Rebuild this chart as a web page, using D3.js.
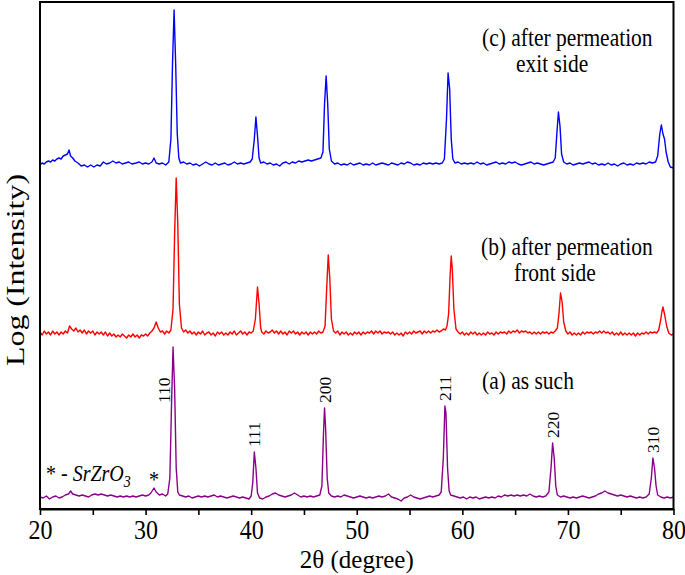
<!DOCTYPE html>
<html>
<head>
<meta charset="utf-8">
<script src="https://cdn.jsdelivr.net/npm/d3@7"></script>
<style>
  body { margin: 0; background: #fff; }
  text { font-family: "Liberation Serif", "Times New Roman", serif; fill: #000; }
</style>
</head>
<body>
<svg id="chart" width="685" height="575"></svg>
<script>
// 2theta (degree) vs log intensity, values relative to each pattern's own baseline
const seriesA = [
  [20.0,1],[20.3,0],[20.6,2],[20.9,-1],[21.2,1],[21.5,2],[21.8,0],[22.1,1],[22.4,3],[22.7,4],[22.9,7],[23.1,4],
  [23.4,3],[23.7,2],[24.0,3],[24.3,2],[24.6,1],[24.9,3],[25.2,4],[25.5,3],[25.8,4],[26.1,3],[26.4,2],[26.7,3],
  [27.0,2],[27.3,1],[27.6,2],[27.9,1],[28.2,2],[28.5,1],[28.8,2],[29.1,1],[29.4,2],[29.7,3],[30.0,2],[30.3,3],
  [30.5,5],[30.8,10],[31.0,6],[31.3,3],[31.6,4],[31.9,2],[32.1,4],[32.3,20],[32.45,90],[32.6,151],[32.75,110],
  [32.9,30],[33.05,6],[33.2,3],[33.5,2],[33.8,1],[34.1,2],[34.4,0],[34.7,1],[35.0,2],[35.3,1],[35.6,2],[35.9,1],
  [36.2,2],[36.5,3],[36.8,1],[37.1,2],[37.4,1],[37.7,0],[38.0,1],[38.3,2],[38.6,1],[38.9,0],[39.2,1],[39.5,0],
  [39.8,-1],[40.0,2],[40.15,15],[40.3,46],[40.45,30],[40.6,5],[40.8,0],[41.1,-1],[41.4,1],[41.7,2],[42.0,4],
  [42.3,5],[42.6,3],[42.9,2],[43.2,1],[43.5,2],[43.8,3],[44.1,5],[44.4,3],[44.7,1],[45.0,2],[45.3,1],[45.6,2],
  [45.9,1],[46.2,2],[46.5,3],[46.7,12],[46.85,65],[46.95,90],[47.05,70],[47.2,20],[47.35,5],[47.6,2],[47.9,1],
  [48.2,2],[48.5,1],[48.8,3],[49.1,2],[49.4,1],[49.7,0],[50.0,1],[50.3,2],[50.6,1],[50.9,0],[51.2,1],[51.5,0],
  [51.8,1],[52.1,2],[52.4,1],[52.7,2],[53.0,4],[53.3,1],[53.6,0],[53.9,-1],[54.2,-3],[54.5,0],[54.8,1],[55.1,3],
  [55.4,1],[55.7,0],[56.0,-1],[56.3,0],[56.6,1],[56.9,2],[57.2,1],[57.5,2],[57.8,3],[58.0,6],[58.2,40],
  [58.35,92],[58.45,85],[58.6,30],[58.75,7],[58.9,3],[59.2,2],[59.5,1],[59.8,0],[60.1,1],[60.4,-1],[60.7,1],
  [61.0,0],[61.3,1],[61.6,-1],[61.9,0],[62.2,1],[62.5,0],[62.8,1],[63.1,0],[63.4,2],[63.7,1],[64.0,3],[64.3,2],
  [64.6,3],[64.9,2],[65.2,3],[65.5,2],[65.8,3],[66.1,2],[66.4,4],[66.7,2],[67.0,1],[67.3,2],[67.6,1],[67.9,2],
  [68.2,6],[68.4,30],[68.55,55],[68.7,40],[68.85,12],[69.0,3],[69.3,1],[69.6,2],[69.9,1],[70.2,0],[70.5,1],
  [70.8,0],[71.1,1],[71.4,2],[71.7,1],[72.0,0],[72.3,1],[72.6,2],[72.9,4],[73.2,5],[73.5,7],[73.8,5],[74.1,4],
  [74.4,3],[74.7,2],[75.0,3],[75.3,2],[75.6,1],[75.9,2],[76.2,1],[76.5,0],[76.8,1],[77.1,0],[77.4,1],[77.7,4],
  [77.9,20],[78.05,40],[78.2,30],[78.35,12],[78.5,3],[78.8,1],[79.1,0],[79.4,1],[79.7,0],[80.0,1]
];

const seriesB = [
  [20.0,2],[20.2,-1],[20.4,3],[20.6,0],[20.8,2],[21.0,-1],[21.2,3],[21.4,0],[21.6,2],[21.8,-1],
  [22.0,2],[22.2,0],[22.4,3],[22.6,1],[22.8,8],[23.0,5],[23.2,3],[23.4,6],[23.6,2],[23.8,4],
  [24.0,1],[24.2,4],[24.4,0],[24.6,3],[24.8,1],[25.0,3],[25.2,-1],[25.4,2],[25.6,0],[25.8,2],
  [26.0,-1],[26.2,2],[26.4,-2],[26.6,1],[26.8,-2],[27.0,0],[27.2,-3],[27.4,-1],[27.6,-3],[27.8,0],
  [28.0,-2],[28.2,-4],[28.4,-1],[28.6,-3],[28.8,0],[29.0,-3],[29.2,-1],[29.4,-4],[29.6,-1],[29.8,-2],
  [30.0,0],[30.2,-2],[30.4,1],[30.6,3],[30.8,6],[31.0,12],[31.2,6],[31.4,2],[31.6,3],[31.8,0],
  [32.0,3],[32.2,1],[32.4,4],[32.6,25],[32.75,100],[32.9,156],[33.05,110],[33.2,30],[33.4,6],[33.6,2],[33.8,4],
  [34.0,1],[34.2,3],[34.4,0],[34.6,2],[34.8,-1],[35.0,2],[35.2,0],[35.4,3],[35.6,-1],[35.8,1],
  [36.0,2],[36.2,-1],[36.4,1],[36.6,-2],[36.8,2],[37.0,0],[37.2,2],[37.4,-1],[37.6,1],[37.8,-1],
  [38.0,2],[38.2,0],[38.4,3],[38.6,-1],[38.8,1],[39.0,3],[39.2,0],[39.4,2],[39.6,-1],[39.8,2],
  [40.0,1],[40.2,3],[40.4,15],[40.6,47],[40.75,30],[40.9,6],[41.0,2],[41.2,0],[41.4,3],[41.6,1],[41.8,2],
  [42.0,4],[42.2,1],[42.4,3],[42.6,0],[42.8,3],[43.0,0],[43.2,2],[43.4,-1],[43.6,3],[43.8,1],
  [44.0,3],[44.2,0],[44.4,2],[44.6,-1],[44.8,2],[45.0,0],[45.2,2],[45.4,-1],[45.6,2],[45.8,0],
  [46.0,2],[46.2,0],[46.4,3],[46.6,1],[46.8,2],[47.0,8],[47.15,45],[47.3,79],[47.45,55],[47.6,15],[47.8,3],
  [48.0,1],[48.2,3],[48.4,-1],[48.6,2],[48.8,0],[49.0,2],[49.2,-1],[49.4,1],[49.6,-1],[49.8,2],
  [50.0,0],[50.2,2],[50.4,-1],[50.6,2],[50.8,0],[51.0,2],[51.2,1],[51.4,3],[51.6,0],[51.8,3],
  [52.0,1],[52.2,3],[52.4,0],[52.6,2],[52.8,1],[53.0,2],[53.2,0],[53.4,2],[53.6,-1],[53.8,1],
  [54.0,-1],[54.2,1],[54.4,-2],[54.6,2],[54.8,0],[55.0,2],[55.2,0],[55.4,3],[55.6,1],[55.8,2],
  [56.0,3],[56.2,0],[56.4,3],[56.6,1],[56.8,3],[57.0,1],[57.2,3],[57.4,2],[57.6,4],[57.8,2],
  [58.0,3],[58.2,5],[58.4,4],[58.55,8],[58.7,20],[58.85,60],[58.95,78],[59.05,65],[59.2,25],[59.4,5],[59.6,2],[59.8,0],
  [60.0,2],[60.2,-1],[60.4,1],[60.6,-1],[60.8,2],[61.0,0],[61.2,2],[61.4,-1],[61.6,1],[61.8,-1],
  [62.0,1],[62.2,-1],[62.4,2],[62.6,0],[62.8,1],[63.0,-1],[63.2,2],[63.4,0],[63.6,2],[63.8,1],
  [64.0,2],[64.2,0],[64.4,3],[64.6,1],[64.8,3],[65.0,2],[65.2,4],[65.4,1],[65.6,3],[65.8,2],
  [66.0,3],[66.2,1],[66.4,2],[66.6,0],[66.8,2],[67.0,0],[67.2,2],[67.4,0],[67.6,2],[67.8,1],
  [68.0,2],[68.2,0],[68.4,2],[68.6,1],[68.8,3],[69.0,6],[69.15,20],[69.3,41],[69.45,32],[69.6,12],[69.8,3],
  [70.0,0],[70.2,2],[70.4,-1],[70.6,1],[70.8,-1],[71.0,1],[71.2,-1],[71.4,2],[71.6,0],[71.8,2],
  [72.0,1],[72.2,2],[72.4,0],[72.6,2],[72.8,1],[73.0,3],[73.2,1],[73.4,3],[73.6,1],[73.8,2],
  [74.0,0],[74.2,2],[74.4,-1],[74.6,1],[74.8,-1],[75.0,2],[75.2,-1],[75.4,1],[75.6,-1],[75.8,1],
  [76.0,-1],[76.2,1],[76.4,-2],[76.6,1],[76.8,-1],[77.0,1],[77.2,0],[77.4,2],[77.6,0],[77.8,2],
  [78.0,1],[78.2,2],[78.4,1],[78.6,4],[78.8,15],[78.9,22],[79.0,27],[79.15,20],[79.35,8],[79.55,1],[79.8,-1],[80.0,0]
];

const seriesC = [
  [20.0,-1],[20.2,1],[20.4,0],[20.6,2],[20.8,3],[21.0,2],[21.2,4],[21.4,3],[21.6,5],[21.8,6],[22.0,5],[22.2,8],
  [22.4,9],[22.6,10],[22.75,14],[22.9,8],[23.1,6],[23.3,3],[23.6,1],[23.9,-2],[24.2,-1],[24.5,-3],[24.8,-1],
  [25.1,-3],[25.4,-1],[25.7,-2],[26.0,2],[26.3,0],[26.6,1],[26.9,3],[27.2,1],[27.5,2],[27.8,0],[28.1,1],[28.4,2],
  [28.7,0],[29.1,1],[29.4,2],[29.7,0],[30.0,1],[30.3,0],[30.6,2],[30.8,6],[31.0,1],[31.3,0],[31.6,1],[31.9,-1],
  [32.2,2],[32.4,25],[32.55,100],[32.7,154],[32.85,100],[33.0,30],[33.15,6],[33.3,1],[33.6,2],[33.9,0],[34.2,1],
  [34.5,-1],[34.8,0],[35.1,-2],[35.4,0],[35.7,2],[36.0,0],[36.3,-1],[36.6,1],[36.9,-1],[37.2,0],[37.5,1],
  [37.8,-1],[38.1,0],[38.4,2],[38.7,0],[39.0,1],[39.3,0],[39.6,1],[39.9,2],[40.1,5],[40.3,25],[40.45,47],
  [40.6,28],[40.75,6],[40.9,1],[41.2,2],[41.5,0],[41.8,1],[42.1,-1],[42.4,0],[42.7,-2],[43.0,1],[43.3,2],[43.6,0],
  [43.9,2],[44.2,1],[44.5,3],[44.8,2],[45.1,3],[45.4,4],[45.7,3],[46.0,4],[46.3,5],[46.6,6],[46.8,12],[46.95,60],
  [47.1,88],[47.25,60],[47.4,15],[47.6,3],[47.9,0],[48.2,1],[48.5,-1],[48.8,0],[49.1,-1],[49.4,1],[49.7,-1],
  [50.0,0],[50.3,1],[50.6,-1],[50.9,0],[51.2,-1],[51.5,1],[51.8,-1],[52.1,0],[52.4,1],[52.7,0],[53.0,-1],[53.3,1],
  [53.6,0],[53.9,-1],[54.2,1],[54.5,0],[54.8,2],[55.1,1],[55.4,-1],[55.7,0],[56.0,-1],[56.3,1],[56.6,0],[56.9,1],
  [57.2,0],[57.5,1],[57.8,0],[58.1,1],[58.3,5],[58.5,45],[58.65,91],[58.8,75],[58.95,25],[59.1,5],[59.3,1],
  [59.6,2],[59.9,0],[60.2,1],[60.5,0],[60.8,1],[61.1,0],[61.4,2],[61.7,0],[62.0,1],[62.3,-1],[62.6,0],[62.9,1],
  [63.2,2],[63.5,0],[63.8,1],[64.1,0],[64.4,2],[64.7,1],[65.0,2],[65.3,0],[65.6,-1],[65.9,0],[66.2,1],[66.5,2],
  [66.8,0],[67.1,1],[67.4,0],[67.7,-1],[68.0,0],[68.3,1],[68.6,2],[68.8,6],[68.95,30],[69.1,52],[69.25,38],
  [69.4,10],[69.6,2],[69.9,0],[70.2,1],[70.5,-1],[70.8,0],[71.1,1],[71.4,0],[71.7,1],[72.0,2],[72.3,0],[72.6,1],
  [72.9,-1],[73.2,0],[73.5,-1],[73.8,1],[74.1,-1],[74.4,0],[74.7,-2],[75.0,0],[75.3,1],[75.6,-1],[75.9,0],
  [76.2,-1],[76.5,1],[76.8,0],[77.1,1],[77.4,0],[77.7,2],[78.0,1],[78.3,2],[78.5,8],[78.7,30],[78.85,39],
  [79.0,30],[79.15,25],[79.3,12],[79.5,2],[79.7,-3],[80.0,-4]
];

const seriesNames = ["(a) as such", "(b) after permeation", "(c) after permeation"];
const seriesSub = ["", "front side", "exit side"];
const seriesColors = ["#8b008b", "#ff0000", "#0000ff"];
const seriesOffsets = [11, 175, 345];

const hklLabels = ["110", "111", "200", "211", "220", "310"];
const hklTheta = [32.6, 40.3, 46.95, 58.35, 68.55, 78.05];

const xTickValues = [20, 25, 30, 35, 40, 45, 50, 55, 60, 65, 70, 75, 80];
const xTickLabels = ["20", "", "30", "", "40", "", "50", "", "60", "", "70", "", "80"];

const width = 685, height = 575;
const margin = { top: 2, right: 11.5, bottom: 66, left: 40 };
const stretch = 1.15; // glyphs in the source figure are a bit tall

const svg = d3.select("#chart");

const x = d3.scaleLinear().domain([20, 80]).range([margin.left, width - margin.right]);
const y = d3.scaleLinear().domain([0, 507]).range([height - margin.bottom, margin.top]);

const line = (offset) => d3.line()
  .x(d => x(d[0]))
  .y(d => y(d[1] + offset));

const allSeries = [seriesA, seriesB, seriesC];

allSeries.forEach((s, i) => {
  svg.append("path")
    .datum(s)
    .attr("fill", "none")
    .attr("stroke", seriesColors[i])
    .attr("stroke-width", 1.4)
    .attr("stroke-linejoin", "round")
    .attr("d", line(seriesOffsets[i]));
});

// frame
svg.append("rect")
  .attr("x", x(20)).attr("y", y(507))
  .attr("width", x(80) - x(20)).attr("height", y(0) - y(507))
  .attr("fill", "none").attr("stroke", "#000").attr("stroke-width", 2);

const xAxis = d3.axisBottom(x)
  .tickValues(xTickValues)
  .tickFormat((d, i) => xTickLabels[i])
  .tickSizeInner(6).tickSizeOuter(0).tickPadding(3);

const gx = svg.append("g")
  .attr("transform", `translate(0,${y(0)})`)
  .call(xAxis);
gx.select(".domain").attr("stroke-width", 2);
gx.selectAll(".tick line").attr("stroke-width", 1.6);
gx.selectAll(".tick text")
  .attr("font-size", 24)
  .attr("transform", `scale(1,${stretch})`);

const label = (tx, ty, size, str, sy = stretch) => svg.append("text")
  .attr("transform", `translate(${tx},${ty}) scale(1,${sy})`)
  .attr("font-size", size)
  .text(str);

label((x(20) + x(80)) / 2, 568, 25, "2θ (degree)", 1).attr("text-anchor", "middle");

svg.append("text")
  .attr("transform", `translate(24,270) rotate(-90)`)
  .attr("text-anchor", "middle")
  .attr("font-size", 26)
  .attr("textLength", 192)
  .attr("lengthAdjust", "spacingAndGlyphs")
  .text("Log (Intensity)");

// series captions
const captionX = [482, 481, 482];
const captionY = [389, 255, 46];
const subX = [0, 514, 516];
seriesNames.forEach((name, i) => {
  label(captionX[i], captionY[i], 21.5, name);
  if (seriesSub[i]) label(subX[i], captionY[i] + 26, 21.5, seriesSub[i]);
});

// hkl labels above the peaks of pattern (a)
const peakTop = (theta) => d3.max(seriesA.filter(d => Math.abs(d[0] - theta) < 0.3), d => d[1]);

hklLabels.forEach((lab, i) => {
  const top = y(peakTop(hklTheta[i]) + seriesOffsets[0]);
  const beside = i === 0;
  const px = x(hklTheta[i]) + (beside ? -9 : 0);
  const py = beside ? y(seriesOffsets[0] + 95) : top - 5;
  svg.append("text")
    .attr("transform", `translate(${px},${py}) rotate(-90)`)
    .attr("dy", "0.35em")
    .attr("font-size", 17.5)
    .text(lab);
});

// SrZrO3 marker
label(x(30.8), y(seriesOffsets[0] + 10) - 1, 20, "*").attr("text-anchor", "middle");

const legend = label(46, 481, 20, null);
legend.append("tspan").text("* - ");
legend.append("tspan").attr("font-style", "italic").text("SrZrO");
legend.append("tspan").attr("font-style", "italic").attr("font-size", 14).attr("dy", 5).text("3");
</script>
</body>
</html>
